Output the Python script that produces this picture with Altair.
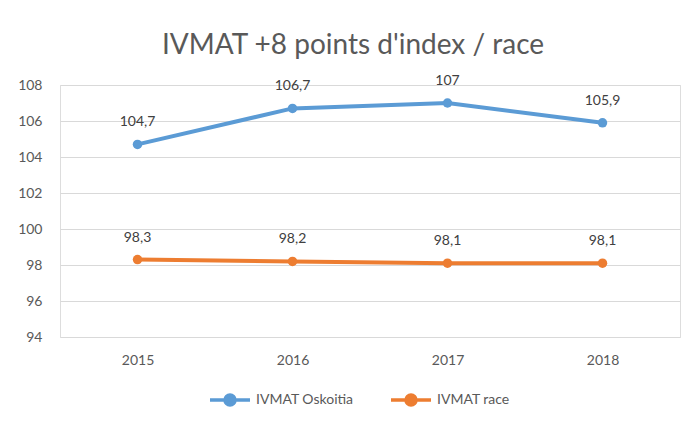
import altair as alt
import pandas as pd

years = ["2015", "2016", "2017", "2018"]
oskoitia = [104.7, 106.7, 107.0, 105.9]
race = [98.3, 98.2, 98.1, 98.1]
series_names = ["IVMAT Oskoitia", "IVMAT race"]
colors = ["#5B9BD5", "#ED7D31"]
y_ticks = [94, 96, 98, 100, 102, 104, 106, 108]

rows = []
for name, vals in zip(series_names, [oskoitia, race]):
    for yr, v in zip(years, vals):
        rows.append({"year": yr, "value": v, "series": name})
df = pd.DataFrame(rows)

FONT = "Lato"

x = alt.X("year:N", sort=years, title=None,
          scale=alt.Scale(type="point", padding=0.5),
          axis=alt.Axis(labelAngle=0, labelFontSize=14, labelColor="#595959",
                        labelFont=FONT, ticks=False, domain=False, grid=False,
                        labelPadding=16))
y = alt.Y("value:Q", title=None,
          scale=alt.Scale(domain=[94, 108], nice=False, zero=False),
          axis=alt.Axis(values=y_ticks, labelFontSize=14, labelColor="#595959",
                        labelFont=FONT, ticks=False, domain=False,
                        gridColor="#D9D9D9", gridWidth=1, labelPadding=18))

path = "M-1,0H1M-0.25,0A0.25,0.25 0 1,0 0.25,0A0.25,0.25 0 1,0 -0.25,0Z"
color = alt.Color("series:N", sort=series_names,
                  scale=alt.Scale(domain=series_names, range=colors),
                  legend=alt.Legend(title=None, orient="none", direction="horizontal",
                                    legendX=148, legendY=293,
                                    symbolType=path, symbolSize=1600,
                                    symbolStrokeWidth=3.5, labelFontSize=14,
                                    labelColor="#595959", labelFont=FONT,
                                    columnPadding=30, labelOffset=4))

base = alt.Chart(df).encode(x=x, y=y, color=color)
lines = base.mark_line(strokeWidth=4)
points = base.mark_point(filled=True, size=90, opacity=1)
labels = base.mark_text(dy=-22, fontSize=14, font=FONT, color="#404040").encode(
    text=alt.Text("lbl:N"), color=alt.value("#404040")
).transform_calculate(lbl="replace(format(datum.value, '.1~f'), '.', ',')")

chart = alt.layer(lines, points, labels).properties(
    width=620, height=252,
    autosize=alt.AutoSizeParams(type="none"),
    padding={"left": 52, "top": 77, "right": 8, "bottom": 77},
    title=alt.TitleParams("IVMAT +8 points d'index / race", anchor="middle",
                          fontSize=28, font=FONT, fontWeight="normal",
                          color="#595959", offset=14, dx=-17),
).configure_view(stroke=None).configure(background="white")

chart.save("out.html", embed_options={"renderer": "svg", "actions": False})
